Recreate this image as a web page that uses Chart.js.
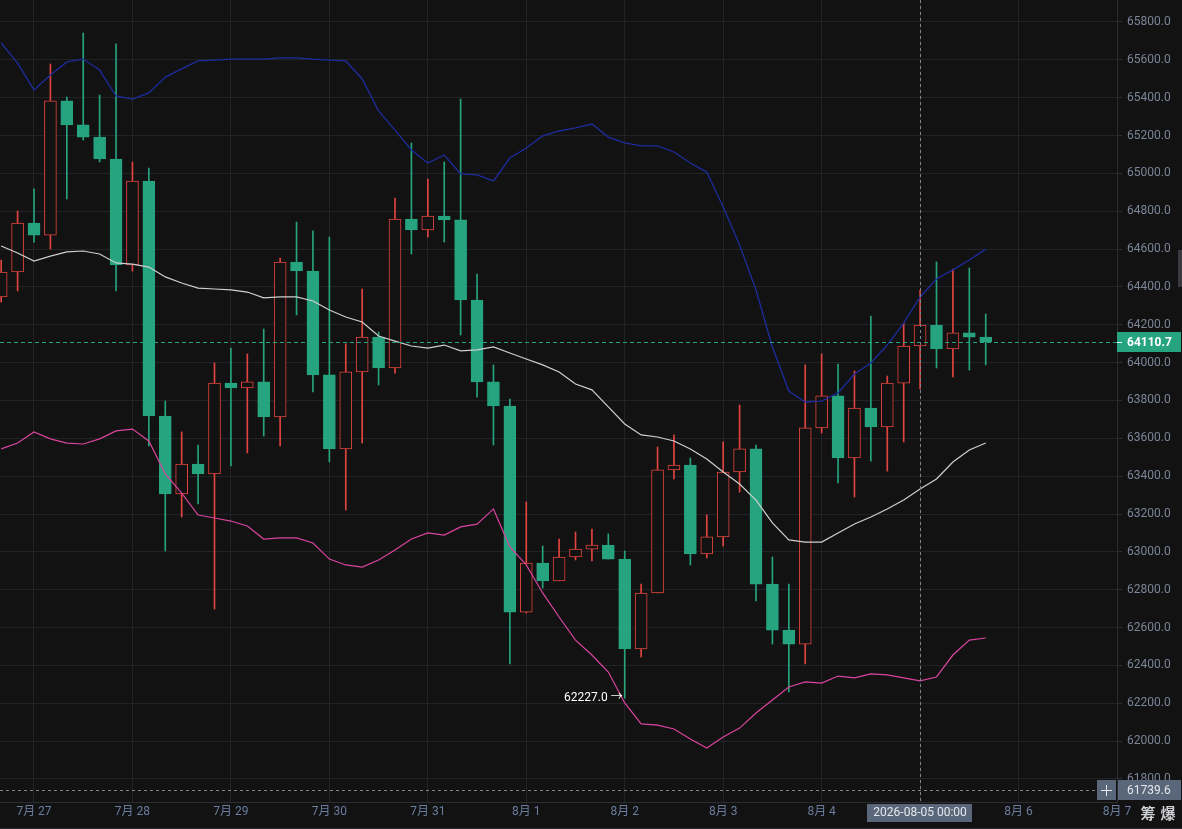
<!DOCTYPE html>
<html><head><meta charset="utf-8">
<style>html,body{margin:0;padding:0;background:#121212;overflow:hidden}canvas{display:block}</style>
<script src="https://cdn.jsdelivr.net/npm/chart.js@4.4.1/dist/chart.umd.min.js"></script>
</head><body>
<canvas id="c" width="1182" height="829" style="width:1182px;height:829px"></canvas>
<script>
// ---- DATA (4h candles) ----
const candleTimes = [
 '07-26 16:00','07-26 20:00',
 '07-27 00:00','07-27 04:00','07-27 08:00','07-27 12:00','07-27 16:00','07-27 20:00',
 '07-28 00:00','07-28 04:00','07-28 08:00','07-28 12:00','07-28 16:00','07-28 20:00',
 '07-29 00:00','07-29 04:00','07-29 08:00','07-29 12:00','07-29 16:00','07-29 20:00',
 '07-30 00:00','07-30 04:00','07-30 08:00','07-30 12:00','07-30 16:00','07-30 20:00',
 '07-31 00:00','07-31 04:00','07-31 08:00','07-31 12:00','07-31 16:00','07-31 20:00',
 '08-01 00:00','08-01 04:00','08-01 08:00','08-01 12:00','08-01 16:00','08-01 20:00',
 '08-02 00:00','08-02 04:00','08-02 08:00','08-02 12:00','08-02 16:00','08-02 20:00',
 '08-03 00:00','08-03 04:00','08-03 08:00','08-03 12:00','08-03 16:00','08-03 20:00',
 '08-04 00:00','08-04 04:00','08-04 08:00','08-04 12:00','08-04 16:00','08-04 20:00',
 '08-05 00:00','08-05 04:00','08-05 08:00','08-05 12:00','08-05 16:00'
];
const openPrices = [64347,64479,64738,64674,65383,65256,65192,65076,64516,64960,
 63718,63306,63464,63412,63892,63866,63898,63713,64532,64484,
 63935,63544,63951,64135,63972,64759,64701,64775,64754,64331,
 63898,63771,62682,62941,62846,62973,63015,63036,62962,62487,
 62783,63433,63459,62989,63079,63422,63544,62830,62587,62513,
 63655,63824,63496,63760,63660,63892,64088,64199,64072,64157,64135];
const highPrices = [64542,64801,64918,65578,65404,65742,65414,65684,65060,65028,
 63797,63634,63565,63998,64077,64046,64178,64553,64743,64696,
 64664,64099,64389,64162,64870,65161,64970,65060,65393,64468,
 63988,63808,63264,63031,63068,63105,63121,63095,63005,62830,
 63554,63618,63496,63195,63581,63776,63565,62973,62830,63988,
 64046,63993,63956,64246,63929,64209,64384,64532,64495,64500,64257];
const lowPrices = [64320,64379,64637,64600,64865,65176,65060,64379,64484,63560,
 63005,63184,63253,62698,63454,63523,63612,63560,64252,63845,
 63475,63221,63575,63882,63945,64574,64664,64637,64146,63818,
 63565,62408,62677,62809,62846,62957,62952,62962,62227,62445,
 62783,63385,62931,62968,63031,63316,62741,62513,62260,62408,
 63628,63364,63290,63480,63427,63581,63861,63972,63924,63961,63988];
const closePrices = [64479,64738,64674,65383,65256,65192,65076,64516,64960,63718,
 63306,63464,63412,63892,63866,63898,63713,64532,64484,63935,
 63544,63951,64135,63972,64759,64701,64775,64754,64331,63898,
 63771,62682,62941,62846,62973,63015,63036,62962,62487,62783,
 63433,63459,62989,63079,63422,63544,62830,62587,62513,63655,
 63824,63496,63760,63660,63892,64088,64199,64072,64157,64135,64110.7];
const bbUpper = [65689,65583,65441,65520,65589,65604,65546,65409,65393,65425,
 65509,65552,65594,65599,65604,65604,65604,65610,65610,65604,
 65599,65594,65499,65330,65229,65124,65055,65097,64997,64992,
 64960,65081,65134,65198,65224,65240,65261,65192,65161,65145,
 65145,65113,65055,65007,64822,64622,64384,64083,63850,63792,
 63797,63840,63940,63998,64093,64209,64347,64442,64490,64542,64600];
const bbMiddle = [64616,64579,64537,64563,64585,64590,64574,64527,64521,64505,
 64453,64421,64394,64389,64384,64373,64342,64347,64347,64326,
 64278,64241,64215,64141,64114,64088,64077,64093,64062,64067,
 64083,64051,64019,63988,63951,63887,63856,63766,63676,63618,
 63607,63586,63544,63491,63422,63359,63274,63153,63063,63052,
 63052,63100,63147,63184,63227,63274,63332,63385,63475,63538,63575];
const bbLower = [63544,63575,63634,63597,63575,63570,63597,63639,63649,63586,
 63412,63311,63195,63179,63163,63137,63068,63074,63074,63047,
 62962,62931,62920,62957,63010,63068,63100,63089,63132,63147,
 63227,63026,62931,62783,62656,62534,62455,62365,62202,62091,
 62085,62064,62011,61964,62022,62069,62149,62217,62286,62313,
 62307,62344,62334,62355,62350,62334,62318,62339,62455,62534,62545];
const dayTickIndex = [2,8,14,20,26,32,38,44,50,56,62,68];
const dayTickLabels = ['7月 27','7月 28','7月 29','7月 30','7月 31','8月 1','8月 2','8月 3','8月 4','8月 5','8月 6','8月 7'];
const priceTicks = [61800,62000,62200,62400,62600,62800,63000,63200,63400,63600,63800,64000,64200,64400,64600,64800,65000,65200,65400,65600,65800];
const crossTimeLabel = '2026-08-05 00:00';
const crossTime = '08-05 00:00';
const crossPrice = 61739.6;

// ---- STYLE ----
const UP = '#e0443f', DOWN = '#26a47f', BG = '#121212';
const GRID = '#222326', AXISLINE = '#2b2d31', LABEL = '#7b8598';
const FONT = 'Roboto, "Noto Sans CJK SC", sans-serif';
Chart.defaults.font.family = FONT;

const isUp = i => closePrices[i] >= openPrices[i];
const wickData = candleTimes.map((t, i) => ({x: i, y: [lowPrices[i], highPrices[i]]}));
const bodyData = candleTimes.map((t, i) => ({x: i, y: [openPrices[i], closePrices[i]]}));
const lineData = arr => arr.map((v, i) => ({x: i, y: v}));
const crossIndex = candleTimes.indexOf(crossTime);
const noPad = s => { s.paddingTop = 0; s.paddingBottom = 0; s.paddingLeft = 0; s.paddingRight = 0; };

const overlay = {
  id: 'overlay',
  beforeDraw(chart) {
    const {ctx, width, height} = chart;
    ctx.save(); ctx.fillStyle = BG; ctx.fillRect(0, 0, width, height); ctx.restore();
  },
  afterDatasetsDraw(chart) {
    const {ctx, chartArea: a, scales: {x, y}} = chart;
    ctx.save();
    const last = closePrices[closePrices.length - 1];
    const py = Math.round(y.getPixelForValue(last)) + 0.5;
    ctx.lineWidth = 1;
    ctx.strokeStyle = DOWN; ctx.setLineDash([4, 3]);
    ctx.beginPath(); ctx.moveTo(a.left, py); ctx.lineTo(a.right, py); ctx.stroke();
    ctx.strokeStyle = '#80858d'; ctx.setLineDash([3, 3]);
    const cx = Math.round(x.getPixelForValue(crossIndex)) + 0.5;
    ctx.beginPath(); ctx.moveTo(cx, a.top); ctx.lineTo(cx, a.bottom); ctx.stroke();
    const hy = Math.round(y.getPixelForValue(crossPrice)) + 0.5;
    ctx.beginPath(); ctx.moveTo(a.left, hy); ctx.lineTo(a.right - 20, hy); ctx.stroke();
    ctx.setLineDash([]);
    let mi = 0;
    lowPrices.forEach((v, i) => { if (v < lowPrices[mi]) mi = i; });
    ctx.fillStyle = '#ffffff'; ctx.font = '12px ' + FONT;
    ctx.textAlign = 'right'; ctx.textBaseline = 'middle';
    ctx.fillText(lowPrices[mi].toFixed(1) + ' →', x.getPixelForValue(mi) - 2, y.getPixelForValue(lowPrices[mi]));
    ctx.restore();
  },
  afterDraw(chart) {
    const {ctx, chartArea: a, scales: {x, y}, width, height} = chart;
    ctx.save();
    ctx.fillStyle = '#2a2b2e'; ctx.fillRect(0, height - 1, width, 1);
    ctx.fillStyle = '#393a3d'; ctx.fillRect(width - 4, 250, 4, 37);
    const last = closePrices[closePrices.length - 1];
    const py = Math.round(y.getPixelForValue(last));
    ctx.fillStyle = DOWN; ctx.fillRect(a.right, py - 10, 64, 20);
    ctx.fillStyle = '#ffffff'; ctx.fillRect(a.right, py, 5, 1);
    ctx.font = 'bold 12px ' + FONT; ctx.textAlign = 'left'; ctx.textBaseline = 'middle';
    ctx.fillText(last.toFixed(1), a.right + 10, py + 1);
    const BOX = '#5a677a';
    const hy = Math.round(y.getPixelForValue(crossPrice));
    ctx.fillStyle = BOX; ctx.fillRect(a.right + 1, hy - 10, 63, 20);
    ctx.fillRect(a.right - 20, hy - 10, 19, 20);
    ctx.fillStyle = '#e4e7ec'; ctx.font = '12px ' + FONT;
    ctx.fillText(crossPrice.toFixed(1), a.right + 10, hy + 1);
    ctx.fillRect(a.right - 16, hy, 11, 1);
    ctx.fillRect(a.right - 11, hy - 5, 1, 11);
    const cx = x.getPixelForValue(crossIndex);
    ctx.font = '12px ' + FONT;
    const tw = ctx.measureText(crossTimeLabel).width + 12;
    ctx.fillStyle = BOX; ctx.fillRect(Math.round(cx - tw / 2), a.bottom + 2, Math.round(tw), 18);
    ctx.fillStyle = '#e4e7ec'; ctx.textAlign = 'center';
    ctx.fillText(crossTimeLabel, cx, a.bottom + 11);
    ctx.font = 'bold 15px "Noto Sans CJK SC", sans-serif';
    ctx.fillStyle = '#cfd1d4';
    ctx.fillText('筹', 1148, 813);
    ctx.fillText('爆', 1168, 813);
    ctx.restore();
  }
};

new Chart(document.getElementById('c'), {
  type: 'bar',
  data: {
    datasets: [
      {type: 'bar', label: 'wick', data: wickData, order: 3, grouped: false,
       barThickness: 1, borderWidth: 0,
       backgroundColor: candleTimes.map((t, i) => isUp(i) ? UP : DOWN)},
      {type: 'bar', label: 'body', data: bodyData, order: 2, grouped: false,
       barThickness: 12, borderWidth: 1, borderSkipped: false,
       backgroundColor: candleTimes.map((t, i) => isUp(i) ? BG : DOWN),
       borderColor: candleTimes.map((t, i) => isUp(i) ? UP : DOWN)},
      {type: 'line', label: 'UB', data: lineData(bbUpper), order: 1, borderColor: '#1d2c9c', borderWidth: 1.3, pointRadius: 0, tension: 0},
      {type: 'line', label: 'MB', data: lineData(bbMiddle), order: 1, borderColor: '#cfcfcf', borderWidth: 1.2, pointRadius: 0, tension: 0},
      {type: 'line', label: 'LB', data: lineData(bbLower), order: 1, borderColor: '#d9449f', borderWidth: 1.2, pointRadius: 0, tension: 0}
    ]
  },
  options: {
    responsive: false, animation: false, devicePixelRatio: window.devicePixelRatio || 1,
    layout: {padding: 0},
    plugins: {legend: {display: false}, tooltip: {enabled: false}},
    scales: {
      x: {
        type: 'linear', position: 'bottom', min: -0.072, max: 68, offset: false,
        afterBuildTicks: s => { s.ticks = dayTickIndex.map(v => ({value: v})); },
        afterFit: s => { s.height = 27; noPad(s); },
        grid: {color: GRID, drawTicks: false, offset: false},
        border: {color: AXISLINE},
        ticks: {
          color: '#6b7ea0', font: {size: 12, family: FONT}, padding: 3,
          maxRotation: 0, autoSkip: false,
          callback: (v, idx) => dayTickIndex[idx] === crossIndex ? '' : dayTickLabels[idx]
        }
      },
      y: {
        type: 'linear', position: 'right', min: 61678.4, max: 65916.2,
        afterBuildTicks: s => { s.ticks = priceTicks.map(v => ({value: v})); },
        afterFit: s => { s.width = 65; noPad(s); },
        grid: {color: GRID, tickLength: 5, tickColor: '#2e3034'},
        border: {color: AXISLINE},
        ticks: {color: LABEL, font: {size: 12, family: FONT}, padding: 5,
                callback: v => Number(v).toFixed(1)}
      }
    }
  },
  plugins: [overlay]
});
</script>
</body></html>
